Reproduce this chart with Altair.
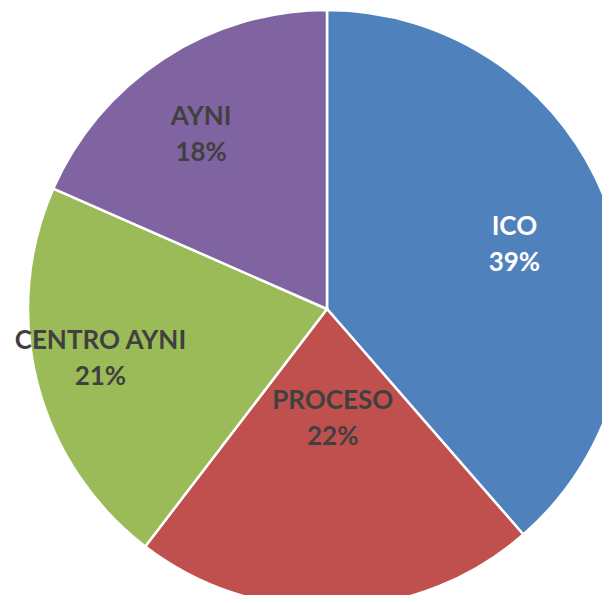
import altair as alt
import pandas as pd

categories = ["ICO", "PROCESO", "CENTRO AYNI", "AYNI"]
shares = [38.6, 21.8, 21.2, 18.4]
colors = ["#4F81BD", "#C0504D", "#9BBB59", "#8064A2"]
label_colors = ["#FFFFFF", "#404040", "#404040", "#404040"]

df = pd.DataFrame({
    "cat": categories,
    "share": shares,
    "order": list(range(len(categories))),
    "lc": label_colors,
})

CX, CY, R = 319, 301, 299
LINE = 36

arcs = alt.Chart(df).mark_arc(outerRadius=R, stroke="white", strokeWidth=2.5).encode(
    theta=alt.Theta("share:Q", stack=True),
    order=alt.Order("order:Q"),
    color=alt.Color("cat:N", scale=alt.Scale(domain=categories, range=colors), legend=None),
    x=alt.value(CX),
    y=alt.value(CY),
)

labels = alt.Chart(df).transform_window(
    cum="sum(share)", sort=[alt.SortField("order", order="ascending")], frame=[None, 0]
).transform_joinaggregate(
    total="sum(share)"
).transform_calculate(
    adj="datum.cat == 'ICO' ? 1.7 : datum.cat == 'PROCESO' ? -1.2 : datum.cat == 'CENTRO AYNI' ? 2.0 : -2.7",
    lr="datum.cat == 'ICO' ? 198 : datum.cat == 'PROCESO' ? 110 : datum.cat == 'CENTRO AYNI' ? 232 : 215",
    label="[datum.cat, format(datum.share / 100, '.0%')]",
).transform_calculate(
    mid="(datum.cum - datum.share / 2) / datum.total * 2 * PI + datum.adj * PI / 180",
).transform_calculate(
    lx=f"{CX} + datum.lr * sin(datum.mid)",
    ly=f"{CY} - datum.lr * cos(datum.mid) - {LINE / 2}",
).mark_text(
    font="Lato", fontSize=26, fontWeight="bold", align="center", baseline="middle", lineHeight=LINE
).encode(
    x=alt.X("lx:Q", scale=None),
    y=alt.Y("ly:Q", scale=None),
    text=alt.Text("label:N"),
    fill=alt.Fill("lc:N", scale=None),
)

chart = (arcs + labels).properties(
    width=594, height=587, padding=0, autosize=alt.AutoSizeParams(type="none")
).configure_view(stroke=None)

chart.save("out.html", embed_options={"renderer": "svg", "actions": False})
